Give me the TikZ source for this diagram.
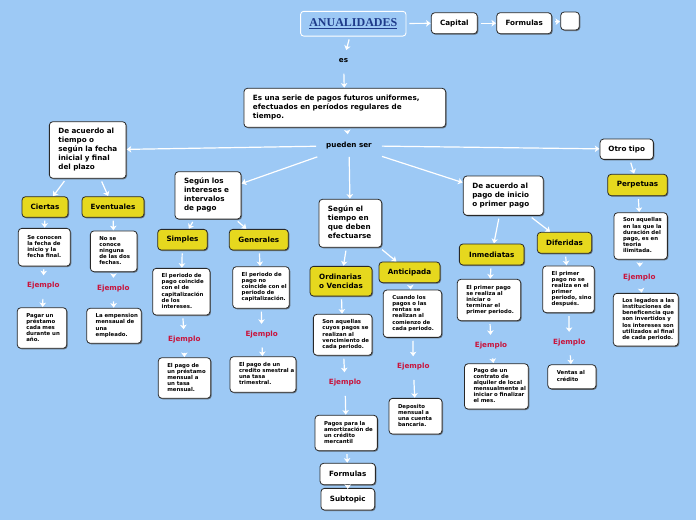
\documentclass[tikz,border=0pt]{standalone}
\usepackage{fontspec}
\setmainfont{DejaVu Sans}
\newfontfamily\tnr{Liberation Serif}
\usetikzlibrary{arrows.meta,shadows}
\definecolor{bg}{RGB}{157,201,245}
\definecolor{bord}{RGB}{40,40,40}
\definecolor{yel}{RGB}{230,216,30}
\definecolor{ejc}{RGB}{200,20,60}
\definecolor{ttl}{RGB}{30,58,138}
\newcommand\lns[1]{\begin{tabular}{@{}l@{}}#1\end{tabular}}
\newcommand\fmain{\fontsize{7.2}{9}\selectfont\bfseries}
\newcommand\fsmall{\fontsize{5.4}{6.1}\selectfont\bfseries}
\newcommand\tbox[7]{\pgfmathsetmacro\mytw{#5-18}\node[tb,#1,text width=\mytw pt,minimum height=#6pt] (#2) at (#3,#4) {\lns{#7}};}
\newcommand\lbox[7]{\node[#1,minimum width=#5pt,minimum height=#6pt,font=\fmain,inner sep=1pt,align=left] (#2) at (#3,#4) {#7};}
\begin{document}
\begin{tikzpicture}[x=1pt,y=-1pt,
  shbox/.style={draw=bord, line width=0.8pt, rounded corners=3.5pt,
    drop shadow={shadow xshift=1pt,shadow yshift=-1pt,fill=black!70,opacity=0.7}},
  wbox/.style={shbox, fill=white},
  ybox/.style={shbox, fill=yel},
  tb/.style={wbox, inner xsep=9pt, inner ysep=1pt, align=left},
  mainf/.style={font=\fmain},
  smallf/.style={font=\fsmall},
  txt/.style={font=\fmain, text height=5.5pt, text depth=1.8pt, inner xsep=10pt, inner ysep=6.3pt},
  ej/.style={txt, text=ejc},
  arr/.style={draw=white, line width=1.2pt, -{Stealth[width=6.5pt,length=4.5pt,inset=1.2pt]},
    shorten <=3pt, shorten >=0.3pt}
]
\fill[bg] (0,0) rectangle (696,520);
\useasboundingbox (0,0) rectangle (696,520);

% top row
\node[draw=white, line width=0.9pt, rounded corners=3pt, minimum width=105.3pt, minimum height=24.7pt,
  font=\tnr\fontsize{12}{14}\selectfont\bfseries, text=ttl] (anu) at (353.3,23.7) {\underline{ANUALIDADES}};
\lbox{wbox,align=center}{cap}{454.3}{23.2}{46}{21}{Capital}
\lbox{wbox,align=center}{fortop}{524.2}{23.2}{55}{21}{Formulas}
\lbox{wbox}{empty}{570}{21}{18.6}{18}{}
\node[txt] (es) at (343.5,60.5) {es};
\tbox{mainf}{main}{344.8}{107.8}{201.7}{39}{Es una serie de pagos futuros uniformes,\\efectuados en períodos regulares de\\tiempo.}
\node[txt, inner xsep=10pt, inner ysep=7.3pt] (pueden) at (349,145.7) {pueden ser};

% left group
\tbox{mainf}{tiempo}{87.7}{150}{76.7}{56.6}{De acuerdo al\\tiempo o\\según la fecha\\inicial y final\\del plazo}
\lbox{ybox,align=center}{ciertas}{45}{207}{46}{20.6}{Ciertas}
\lbox{ybox,align=center}{event}{113}{207}{62}{20.6}{Eventuales}
\tbox{smallf}{cdesc}{44.3}{247.2}{52}{37.7}{Se conocen\\la fecha de\\inicio y la\\fecha final.}
\node[ej] (cej) at (43.3,285.7) {Ejemplo};
\tbox{smallf}{cex}{42}{328}{49.4}{40.6}{Pagar un\\préstamo\\cada mes\\durante un\\año.}
\tbox{smallf}{edesc}{113.7}{251.3}{46.7}{40.7}{No se\\conoce\\ninguna\\de las dos\\fechas.}
\node[ej] (eej) at (113.3,288.3) {Ejemplo};
\tbox{smallf}{eex}{114}{325.8}{54.6}{35}{La empension\\mensaual de\\una\\empleado.}

% intereses group
\tbox{mainf}{inter}{208}{195.3}{66}{47.3}{Según los\\intereses e\\intervalos\\de pago}
\lbox{ybox,align=center}{simp}{182.5}{239.7}{49.6}{20.7}{Simples}
\lbox{ybox,align=center}{gen}{258.8}{239.7}{59}{20.7}{Generales}
\tbox{smallf}{sdesc}{181.3}{291.7}{57.3}{46.7}{El periodo de\\pago coincide\\con el de\\capitalización\\de los\\intereses.}
\node[ej] (sej) at (184.3,339.7) {Ejemplo};
\tbox{smallf}{sex}{184.5}{378}{52.4}{40.6}{El pago de\\un préstamo\\mensual a\\un tasa\\mensual.}
\tbox{smallf}{gdesc}{261}{287.5}{56.6}{41.6}{El periodo de\\pago no\\coincide con el\\periodo de\\capitalización.}
\node[ej] (gej) at (261.7,334.3) {Ejemplo};
\tbox{smallf}{gex}{263}{374.5}{66}{35.6}{El pago de un\\credito smestral a\\una tasa\\trimestral.}

% efectuarse group
\tbox{mainf}{efect}{350.3}{223.3}{62.7}{48}{Según el\\tiempo en\\que deben\\efectuarse}
\lbox{ybox,inner xsep=8pt}{ord}{341}{281.2}{62}{29.7}{Ordinarias\\o Vencidas}
\lbox{ybox,align=center}{ant}{409.5}{272.3}{61}{20.7}{Anticipada}
\tbox{smallf}{odesc}{342.7}{334.8}{58.7}{41}{Son aquellas\\cuyos pagos se\\realizan al\\vencimiento de\\cada periodo.}
\node[ej] (oej) at (345,382.7) {Ejemplo};
\tbox{smallf}{oex}{346.2}{433}{62.3}{35.4}{Pagos para la\\amortización de\\un crédito\\mercantil}
\lbox{wbox,align=center}{forb}{347.7}{474}{55.3}{21.4}{Formulas}
\lbox{wbox,align=center}{sub}{347.8}{499.2}{53.7}{21.7}{Subtopic}
\tbox{smallf}{adesc}{412.5}{313.7}{58.4}{47.3}{Cuando los\\pagos o las\\rentas se\\realizan al\\comienzo de\\cada periodo.}
\node[ej] (aej) at (413.3,366.7) {Ejemplo};
\tbox{smallf}{aex}{415.5}{416.2}{53}{35.7}{Deposito\\mensual a\\una cuenta\\bancaria.}

% pago group
\tbox{mainf}{pago}{503.3}{195.7}{80}{39.3}{De acuerdo al\\pago de inicio\\o primer pago}
\lbox{ybox,align=center}{inm}{491.7}{254.5}{64.7}{21}{Inmediatas}
\lbox{ybox,align=center}{dif}{564.5}{242.8}{54.4}{21}{Diferidas}
\tbox{smallf}{idesc}{489}{300}{63.4}{41.4}{El primer pago\\se realiza al\\iniciar o\\terminar el\\primer periodo.}
\node[ej] (iej) at (491,345.3) {Ejemplo};
\tbox{smallf}{iex}{496.4}{386.4}{63.8}{45.3}{Pago de un\\contrato de\\alquiler de local\\mensualmente al\\iniciar o finalizar\\el mes.}
\tbox{smallf}{ddesc}{568.5}{289.3}{51.6}{46.7}{El primer\\pago no se\\realiza en el\\primer\\periodo, sino\\después.}
\node[ej] (dej) at (569.3,342.3) {Ejemplo};
\tbox{smallf}{dex}{571.9}{376.8}{48.2}{24.1}{Ventas al\\crédito}

% otro tipo group
\lbox{wbox,align=center}{otro}{626.7}{149.2}{53.3}{20.3}{Otro tipo}
\lbox{ybox,align=center}{perp}{637.5}{185}{59.6}{21.4}{Perpetuas}
\tbox{smallf}{pdesc}{640.7}{236}{53.3}{46.6}{Son aquellas\\en las que la\\duración del\\pago, es en\\teoria\\ilimitada.}
\node[ej] (pej) at (639.3,277.3) {Ejemplo};
\tbox{smallf}{pex}{645.8}{319.7}{65}{52.7}{Los legados a las\\instituciones de\\beneficencia que\\son invertidos y\\los intereses son\\utilizados al final\\de cada periodo.}

% connectors
\draw[arr] (anu) -- (cap);
\draw[arr] (cap) -- (fortop);
\draw[arr] (fortop) -- (empty);
\draw[arr] (anu) -- (es);
\draw[arr] (es) -- (main);
\draw[arr] (main) -- (pueden);
\foreach \t in {tiempo,inter,efect,pago,otro} \draw[arr, shorten <=0pt] (pueden) -- (\t);
\foreach \a/\b in {tiempo/ciertas,tiempo/event,ciertas/cdesc,cdesc/cej,cej/cex,event/edesc,edesc/eej,eej/eex,
  inter/simp,inter/gen,simp/sdesc,sdesc/sej,sej/sex,gen/gdesc,gdesc/gej,gej/gex,
  efect/ord,efect/ant,ord/odesc,odesc/oej,oej/oex,oex/forb,ant/adesc,adesc/aej,aej/aex,
  pago/inm,pago/dif,inm/idesc,idesc/iej,iej/iex,dif/ddesc,ddesc/dej,dej/dex,
  otro/perp,perp/pdesc,pdesc/pej,pej/pex}
  \draw[arr] (\a) -- (\b);
\draw[arr, shorten <=0pt, shorten >=-1pt] (forb) -- (sub);
\end{tikzpicture}
\end{document}
